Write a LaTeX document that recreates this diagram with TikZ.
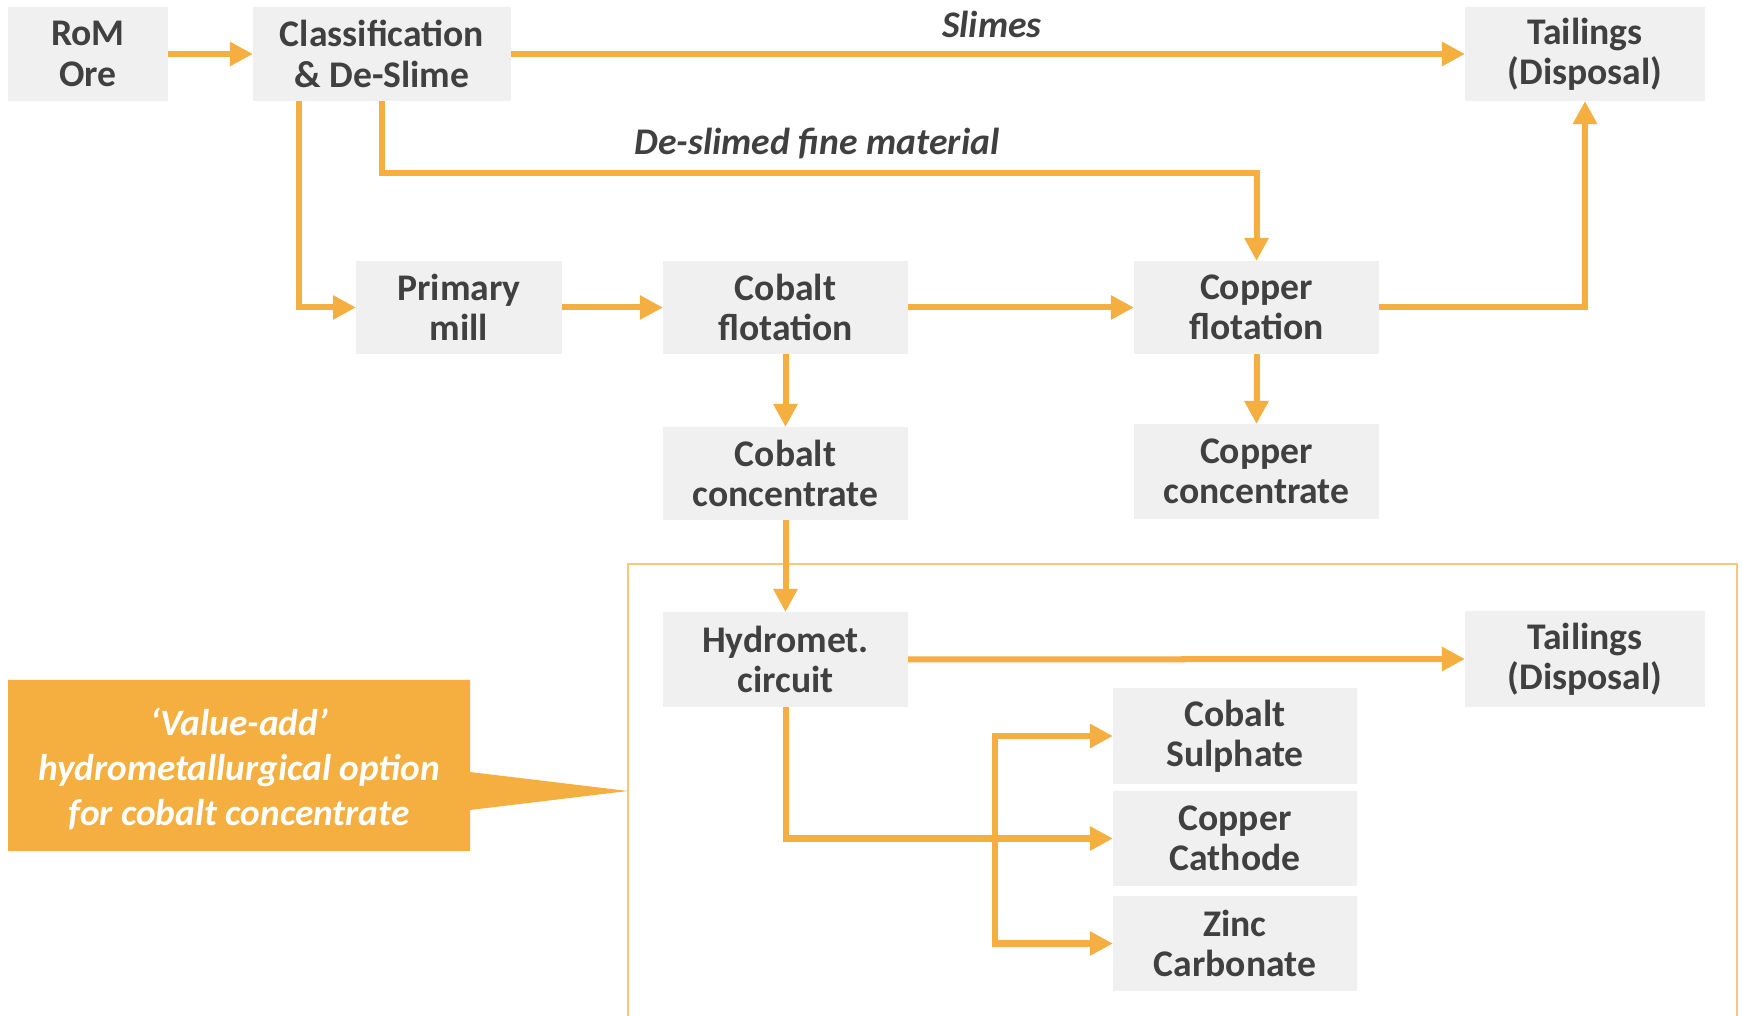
\documentclass[tikz,border=0pt]{standalone}
\usepackage{fontspec}
\setmainfont{Carlito}
\usetikzlibrary{arrows.meta,calc}
\definecolor{org}{HTML}{F5AF41}
\definecolor{boxg}{HTML}{F0F0F0}
\definecolor{txt}{HTML}{404040}
\definecolor{framec}{HTML}{F7C87A}
\begin{document}
\begin{tikzpicture}[x=0.01cm,y=-0.01cm,
  blk/.style={fill=boxg, draw=none, inner sep=0pt, outer sep=0pt, text=txt,
    align=center, font=\fontsize{10.7}{11.5}\selectfont\bfseries,
    minimum width=2.45cm, minimum height=0.94cm},
  arr/.style={draw=org, line width=0.06cm,
    -{Triangle[length=0.23cm,width=0.23cm]}},
  lbl/.style={text=txt, font=\fontsize{10.7}{11.5}\selectfont\bfseries\itshape, inner sep=0pt},
  callouttext/.style={text=white, inner sep=0pt, outer sep=0pt, align=center,
    font=\fontsize{10.6}{12.8}\selectfont\bfseries\itshape}
]
\useasboundingbox (0,0) rectangle (1742,1016);
% frame
\coordinate (fbl) at (628,1016);
\coordinate (ftl) at (628,564);
\coordinate (ftr) at (1737,564);
\coordinate (fbr) at (1737,1016);
\draw[framec, line width=0.6pt] (fbl) -- (ftl) -- (ftr) -- (fbr);
% nodes
\node[blk, minimum width=1.60cm] (rom) at (88,54) {RoM\\Ore};
\node[blk, minimum width=2.58cm] (cls) at (382,54) {Classification\\\& De-Slime};
\node[blk, minimum width=2.40cm] (tail1) at (1585,54) {Tailings\\(Disposal)};
\node[blk, minimum width=2.06cm, minimum height=0.93cm] (pm) at (459,307.5) {Primary\\mill};
\node[blk, minimum height=0.93cm] (cof) at (785.5,307.5) {Cobalt\\flotation};
\node[blk, minimum height=0.93cm] (cuf) at (1256.5,307.5) {Copper\\flotation};
\node[blk, minimum height=0.93cm] (coc) at (785.5,473.5) {Cobalt\\concentrate};
\node[blk, minimum height=0.95cm] (cuc) at (1256.5,471.5) {Copper\\concentrate};
\node[blk, minimum height=0.95cm] (hyd) at (785.5,659.5) {Hydromet.\\circuit};
\node[blk, minimum width=2.40cm, minimum height=0.95cm] (tail2) at (1585,659) {Tailings\\(Disposal)};
\node[blk, minimum width=2.44cm, minimum height=0.96cm] (cs) at (1235,736) {Cobalt\\Sulphate};
\node[blk, minimum width=2.44cm, minimum height=0.95cm] (cc) at (1235,838.5) {Copper\\Cathode};
\node[blk, minimum width=2.44cm, minimum height=0.95cm] (zc) at (1235,943.5) {Zinc\\Carbonate};
% labels
\node[lbl] (slimes) at (992,24) {Slimes};
\node[lbl] (deslimed) at (817,143) {De-slimed fine material};
% connectors
\draw[arr] (rom.east) -- (cls.west);
\draw[arr] (cls.east) -- (tail1.west);
\draw[arr] (cls.south) -- ++(0,72) -| (cuf.north);
\draw[arr] ([xshift=0.46cm]cls.south west) |- (pm.west);
\draw[arr] (pm.east) -- (cof.west);
\draw[arr] (cof.east) -- (cuf.west);
\draw[arr] (cuf.east) -| (tail1.south);
\draw[arr] (cof.south) -- (coc.north);
\draw[arr] (cuf.south) -- (cuc.north);
\draw[arr] (coc.south) -- (hyd.north);
\draw[arr] (hyd.east) -- (tail2.west);
\draw[arr] (hyd.south) |- (cc.west);
\coordinate (j) at (995,838.5);
\draw[arr] (j) |- (cs.west);
\draw[arr] (j) |- (zc.west);
% callout shape
\coordinate (tip) at (628,791);
\fill[org] (8,680) -- (470,680) -- (470,772) -- (tip) -- (470,810) -- (470,851) -- (8,851) -- cycle;
\node[callouttext] (va) at (239,769) {‘Value-add’\\hydrometallurgical option\\for cobalt concentrate};
\end{tikzpicture}
\end{document}
